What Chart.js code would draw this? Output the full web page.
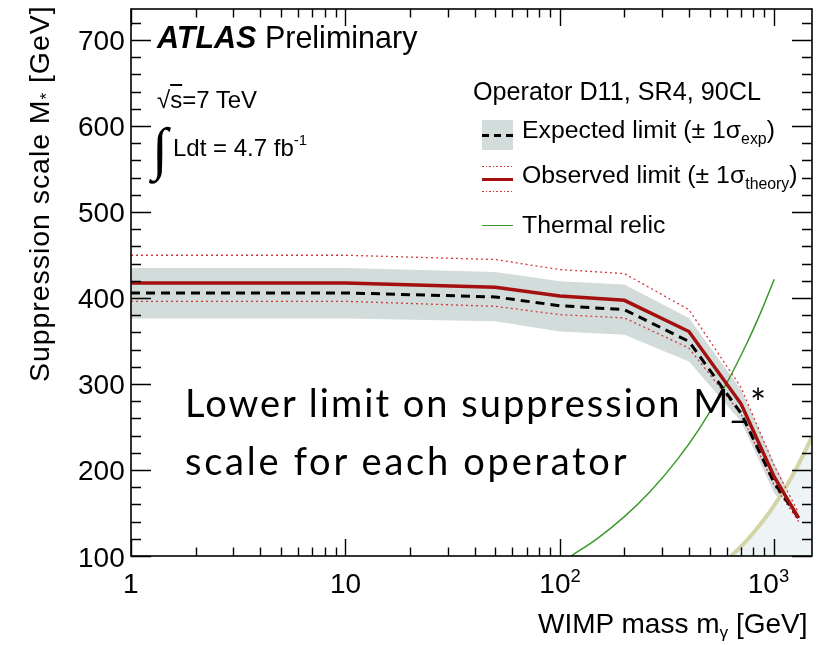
<!DOCTYPE html>
<html><head><meta charset="utf-8">
<script src="https://cdn.jsdelivr.net/npm/chart.js@4.4.1/dist/chart.umd.min.js"></script>
<style>
html,body{margin:0;padding:0;background:#fff;}
#wrap{position:relative;width:823px;height:645px;overflow:hidden;background:#fff;}
#c{position:absolute;left:0;top:0;}
.lbl{position:absolute;white-space:nowrap;font-family:"Liberation Sans",Arial,sans-serif;color:#000;line-height:1.2;}
.bm{display:inline-block;width:0;height:0;vertical-align:baseline;}
.sym{position:absolute;}
</style></head>
<body><div id="wrap"><canvas id="c" width="823" height="645"></canvas><div id="ov"></div></div>
<script>
// ---------------- data ----------------
const massPoints   = [1, 10, 50, 100, 200, 400, 700, 1000, 1300];
const expectedLim  = [405.9, 405.9, 401.2, 391.0, 386.4, 349.5, 266.0, 185.0, 144.0];
const expectedUp   = [435.0, 435.0, 430.3, 419.5, 415.6, 376.8, 293.3, 208.0, 150.0];
const expectedDown = [376.0, 376.0, 372.8, 361.0, 357.3, 326.2, 256.4, 173.0, 138.0];
const observedLim  = [417.5, 417.5, 412.4, 402.2, 397.3, 361.0, 277.0, 192.0, 144.0];
const observedUp   = [449.7, 449.7, 444.7, 433.0, 428.4, 386.4, 296.0, 205.0, 150.0];
const observedDown = [396.1, 396.1, 390.3, 380.6, 376.8, 341.8, 265.0, 182.0, 140.0];

const relicMass    = [113, 150, 200, 264, 350, 450, 605, 750, 870, 1000];
const relicScale   = [100, 120.6, 145.8, 175.1, 210.9, 249.0, 302.7, 348.8, 384.7, 421.7];

const validMass    = [628, 700, 800, 900, 1000, 1100, 1200, 1300, 1400, 1500];
const validScale   = [100, 111, 127, 143, 159, 175, 191, 207, 223, 239];

const yTickValues  = [100, 200, 300, 400, 500, 600, 700];
const yTickLabels  = ['100', '200', '300', '400', '500', '600', '700'];
const yMinorTicks  = [120, 140, 160, 180, 220, 240, 260, 280, 320, 340, 360, 380, 420, 440, 460, 480, 520, 540, 560, 580, 620, 640, 660, 680, 720];
const xTickValues  = [1, 10, 100, 1000];
const xTickLabels  = ['1', '10', '10<span style="font-size:0.66em;vertical-align:0.62em">2</span>', '10<span style="font-size:0.66em;vertical-align:0.62em">3</span>'];
const xMinorTicks  = [2, 3, 4, 5, 6, 7, 8, 9, 20, 30, 40, 50, 60, 70, 80, 90, 200, 300, 400, 500, 600, 700, 800, 900];

const xRange = [1, 1500];
const yRange = [100, 736];

// ---------------- chart ----------------
const pts = (xs, ys) => xs.map((m, i) => ({x: m, y: ys[i]}));

const frameTicks = {
  id: 'frameTicks',
  afterDatasetsDraw(chart) {
    const {ctx, chartArea: a, scales: {x, y}} = chart;
    ctx.save();
    ctx.strokeStyle = '#000';
    ctx.lineWidth = 1.4;
    ctx.beginPath();
    const yt = (v, len) => {
      const p = Math.round(y.getPixelForValue(v)) + 0.5;
      ctx.moveTo(a.left, p); ctx.lineTo(a.left + len, p);
      ctx.moveTo(a.right, p); ctx.lineTo(a.right - len, p);
    };
    const xt = (v, len) => {
      const p = Math.round(x.getPixelForValue(v)) + 0.5;
      ctx.moveTo(p, a.bottom); ctx.lineTo(p, a.bottom - len);
      ctx.moveTo(p, a.top); ctx.lineTo(p, a.top + len);
    };
    yTickValues.forEach(v => yt(v, 20));
    yMinorTicks.forEach(v => yt(v, 10));
    xTickValues.forEach(v => xt(v, 17));
    xMinorTicks.forEach(v => xt(v, 8.5));
    ctx.stroke();
    ctx.lineWidth = 1.6;
    ctx.strokeRect(a.left, a.top, a.right - a.left, a.bottom - a.top);
    ctx.restore();
  }
};

const chart = new Chart(document.getElementById('c'), {
  type: 'line',
  data: {
    datasets: [
      {label: 'expUp', data: pts(massPoints, expectedUp), borderWidth: 0, pointRadius: 0, fill: false, order: 8, tension: 0},
      {label: 'expDown', data: pts(massPoints, expectedDown), borderWidth: 0, pointRadius: 0, fill: '-1', backgroundColor: '#d2dcda', order: 7, tension: 0},
      {label: 'validity', data: pts(validMass, validScale), borderColor: '#d3d5a9', borderWidth: 4, pointRadius: 0, fill: 'start', backgroundColor: '#eef4f6', order: 6, cubicInterpolationMode: 'monotone'},
      {label: 'Thermal relic', data: pts(relicMass, relicScale), borderColor: '#3b9a2c', borderWidth: 1.5, pointRadius: 0, fill: false, order: 5, cubicInterpolationMode: 'monotone'},
      {label: 'obsUp', data: pts(massPoints, observedUp), borderColor: '#d23a3a', borderWidth: 1.3, borderDash: [2, 3], pointRadius: 0, fill: false, order: 4, tension: 0},
      {label: 'obsDown', data: pts(massPoints, observedDown), borderColor: '#d23a3a', borderWidth: 1.3, borderDash: [2, 3], pointRadius: 0, fill: false, order: 3, tension: 0},
      {label: 'Expected limit', data: pts(massPoints, expectedLim), borderColor: '#000', borderWidth: 3, borderDash: [9, 6], pointRadius: 0, fill: false, order: 2, tension: 0},
      {label: 'Observed limit', data: pts(massPoints, observedLim), borderColor: '#a3100f', borderWidth: 3.5, pointRadius: 0, fill: false, order: 1, tension: 0}
    ]
  },
  options: {
    responsive: false,
    animation: false,
    devicePixelRatio: 1,
    layout: {padding: {left: 131, top: 9, right: 11, bottom: 89}},
    plugins: {legend: {display: false}, tooltip: {enabled: false}},
    scales: {
      x: {type: 'logarithmic', min: xRange[0], max: xRange[1], display: false},
      y: {type: 'linear', min: yRange[0], max: yRange[1], display: false}
    }
  },
  plugins: [frameTicks]
});

// ---------------- text (HTML) ----------------
const ov = document.getElementById('ov');
function place(html, x, baseline, style, align) {
  const d = document.createElement('div');
  d.className = 'lbl';
  d.innerHTML = html + '<span class="bm"></span>';
  Object.assign(d.style, style || {});
  ov.appendChild(d);
  const b = d.querySelector('.bm').offsetTop;
  const w = d.offsetWidth;
  let left = x;
  if (align === 'center') left = x - w / 2;
  else if (align === 'right') left = x - w;
  d.style.left = left + 'px';
  d.style.top = (baseline - b) + 'px';
  return d;
}
function fitSpacing(text, font, target) {
  const cv = document.createElement('canvas').getContext('2d');
  cv.font = font;
  return (target - cv.measureText(text).width) / text.length;
}
const xs = chart.scales.x, ys = chart.scales.y;
const TF = {fontSize: '28px'};
yTickValues.forEach((v, i) => place(yTickLabels[i], 125, ys.getPixelForValue(v) + 10.5, TF, 'right'));
xTickValues.forEach((v, i) => {
  let px = xs.getPixelForValue(v);
  if (i === xTickValues.length - 1) px -= 6;
  place(xTickLabels[i], px, 593, TF, 'center');
});

// axis titles
place('WIMP mass m<span style="font-size:0.62em;vertical-align:-0.3em">γ</span> [GeV]', 808, 633, TF, 'right');
(function () {
  const d = document.createElement('div');
  d.className = 'lbl';
  d.style.fontSize = '28.5px';
  d.style.letterSpacing = fitSpacing('Suppression scale M* [GeV]', '28.5px "Liberation Sans"', 381) + 'px';
  d.innerHTML = 'Suppression scale M<span style="font-size:0.6em;vertical-align:-0.15em">*</span> [GeV]<span class="bm"></span>';
  ov.appendChild(d);
  const b = d.querySelector('.bm').offsetTop;
  const w = d.offsetWidth;
  d.style.transformOrigin = '0 0';
  d.style.transform = 'rotate(-90deg)';
  d.style.left = (49 - b) + 'px';
  d.style.top = (5 + w) + 'px';
})();

// ATLAS label
place('<b><i>ATLAS</i></b> Preliminary', 157, 48, {fontSize: '30.5px'});
place('√<span style="text-decoration:overline">s</span>=7 TeV', 157, 108, {fontSize: '24px'});
place('∫', 152, 168, {fontSize: '58px', fontFamily: '"DejaVu Sans"', fontWeight: '300'});
place('Ldt = 4.7 fb<span style="font-size:0.62em;vertical-align:0.75em">-1</span>', 173, 156, {fontSize: '24px'});

// legend
const LF = {fontSize: '24.8px'};
place('Operator D11, SR4, 90CL', 473, 100, {fontSize: '25.2px'});
function sym(css) { const s = document.createElement('div'); s.className = 'sym'; Object.assign(s.style, css); ov.appendChild(s); }
sym({left: '482px', top: '120px', width: '31px', height: '30px', background: '#d2dcda'});
sym({left: '482px', top: '133.5px', width: '31px', height: '3px', background: 'repeating-linear-gradient(90deg,#000 0 7px,transparent 7px 12px)'});
place('Expected limit (± 1σ<span style="font-size:0.64em;vertical-align:-0.35em">exp</span>)', 522, 138, LF);
sym({left: '482px', top: '166px', width: '31px', height: '1.4px', background: 'repeating-linear-gradient(90deg,#d23a3a 0 1.6px,transparent 1.6px 3.6px)'});
sym({left: '482px', top: '177.5px', width: '31px', height: '3.5px', background: '#a3100f'});
sym({left: '482px', top: '191px', width: '31px', height: '1.4px', background: 'repeating-linear-gradient(90deg,#d23a3a 0 1.6px,transparent 1.6px 3.6px)'});
place('Observed limit (± 1σ<span style="font-size:0.64em;vertical-align:-0.35em">theory</span>)', 522, 183, LF);
sym({left: '482px', top: '224.5px', width: '31px', height: '1.5px', background: '#3b9a2c'});
place('Thermal relic', 522, 233, LF);

// big overlay annotation
(function () {
  const font = 'Lato, "Open Sans", sans-serif';
  const size = 38;
  const f = size + 'px ' + font;
  const line1 = 'Lower limit on suppression M_*';
  const line2 = 'scale for each operator';
  place(line1, 185, 417, {fontSize: size + 'px', fontFamily: font, letterSpacing: fitSpacing(line1, f, 584) + 'px'});
  place(line2, 185, 475, {fontSize: size + 'px', fontFamily: font, letterSpacing: fitSpacing(line2, f, 445) + 'px'});
})();
</script>
</body></html>
